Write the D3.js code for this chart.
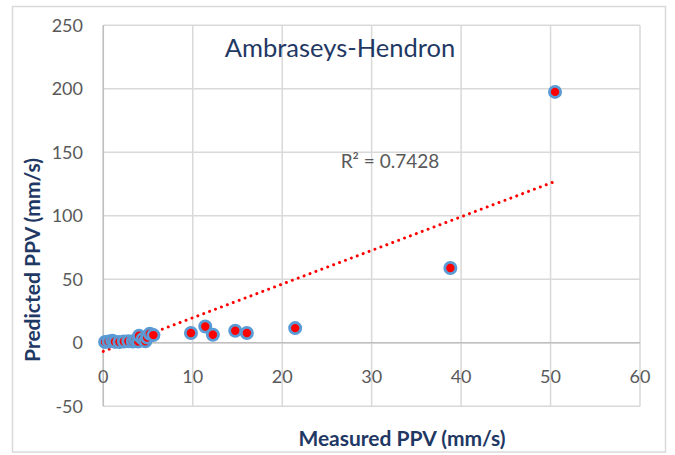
<!DOCTYPE html>
<html><head><meta charset="utf-8">
<script src="https://cdn.jsdelivr.net/npm/d3@7"></script>
<style>html,body{margin:0;padding:0;background:#fff;}svg{display:block;}</style>
</head><body>
<script>
const measured = [0.2,0.6,1.0,1.3,1.8,2.3,2.8,3.3,3.6,3.9,4.0,4.4,4.7,4.9,5.2,5.6,9.8,11.4,12.25,14.75,16.05,21.45,38.8,50.5];
const predicted = [0.5,1.0,1.5,0.8,0.6,1.0,1.2,0.9,2.0,1.0,5.5,3.0,1.2,4.0,7.0,6.0,7.6,12.8,6.3,9.4,7.6,11.5,58.8,197.5];
const xTicks = [0,10,20,30,40,50,60];
const yTicks = [-50,0,50,100,150,200,250];
const trendSlope = 2.65, trendIntercept = -6.85, trendRange = [0, 50.5];
const r2Label = "R² = 0.7428";
const title = "Ambraseys-Hendron";
const xTitle = "Measured PPV (mm/s)";
const yTitle = "Predicted PPV (mm/s)";

const W = 675, H = 455;
const font = "Lato, 'Open Sans', sans-serif";
const svg = d3.select("body").append("svg").attr("width", W).attr("height", H);
svg.append("rect").attr("x",12.5).attr("y",6.5).attr("width",653).attr("height",445.5)
  .attr("fill","#fff").attr("stroke","#D9D9D9").attr("stroke-width",1.5);

const x = d3.scaleLinear().domain([0,60]).range([103.3,640]);
const y = d3.scaleLinear().domain([-50,250]).range([406.2,25.2]);

const grid = svg.append("g");
grid.selectAll("line.v").data(xTicks).join("line").attr("class","v")
  .attr("x1",d=>x(d)).attr("x2",d=>x(d)).attr("y1",y(250)).attr("y2",y(-50))
  .attr("stroke","#D9D9D9").attr("stroke-width",1.5);
grid.selectAll("line.h").data(yTicks).join("line").attr("class","h")
  .attr("x1",x(0)).attr("x2",x(60)).attr("y1",d=>y(d)).attr("y2",d=>y(d))
  .attr("stroke","#D9D9D9").attr("stroke-width",1.5);
// axis lines
svg.append("line").attr("x1",x(0)).attr("x2",x(0)).attr("y1",y(250)).attr("y2",y(-50)).attr("stroke","#BFBFBF").attr("stroke-width",1.5);
svg.append("line").attr("x1",x(0)).attr("x2",x(60)).attr("y1",y(0)).attr("y2",y(0)).attr("stroke","#BFBFBF").attr("stroke-width",1.5);

// tick labels
svg.selectAll("text.yt").data(yTicks).join("text").attr("class","yt")
  .attr("x",83).attr("y",d=>y(d)).attr("dy","0.35em").attr("text-anchor","end")
  .attr("font-family",font).attr("font-size",18).attr("fill","#595959").text(d=>d);
svg.selectAll("text.xt").data(xTicks).join("text").attr("class","xt")
  .attr("x",d=>x(d)).attr("y",383).attr("text-anchor","middle")
  .attr("font-family",font).attr("font-size",18).attr("fill","#595959").text(d=>d);

// trendline
svg.append("line")
  .attr("x1",x(trendRange[0])).attr("y1",y(trendSlope*trendRange[0]+trendIntercept))
  .attr("x2",x(trendRange[1])).attr("y2",y(trendSlope*trendRange[1]+trendIntercept))
  .attr("stroke","#FF0000").attr("stroke-width",3).attr("stroke-linecap","round")
  .attr("stroke-dasharray","0.01 6.3");

// points
const pts = measured.map((m,i)=>({m, p: predicted[i]}));
svg.selectAll("circle.pt").data(pts).join("circle").attr("class","pt")
  .attr("cx",d=>x(d.m)).attr("cy",d=>y(d.p)).attr("r",5.6)
  .attr("fill","#FF0000").attr("stroke","#5B9BD5").attr("stroke-width",2.8);

// texts
svg.append("text").attr("x",340).attr("y",57).attr("text-anchor","middle")
  .attr("font-family",font).attr("font-size",25.5).attr("fill","#1F3864").text(title);
svg.append("text").attr("x",390).attr("y",168).attr("text-anchor","middle")
  .attr("font-family",font).attr("font-size",19).attr("fill","#595959").text(r2Label);
svg.append("text").attr("x",402).attr("y",446).attr("text-anchor","middle")
  .attr("font-family",font).attr("font-size",21).attr("font-weight","bold").attr("fill","#1F3864").text(xTitle);
svg.append("text").attr("transform","translate(40,260) rotate(-90)").attr("text-anchor","middle")
  .attr("font-family",font).attr("font-size",21).attr("font-weight","bold").attr("fill","#1F3864").text(yTitle);
</script>
</body></html>
